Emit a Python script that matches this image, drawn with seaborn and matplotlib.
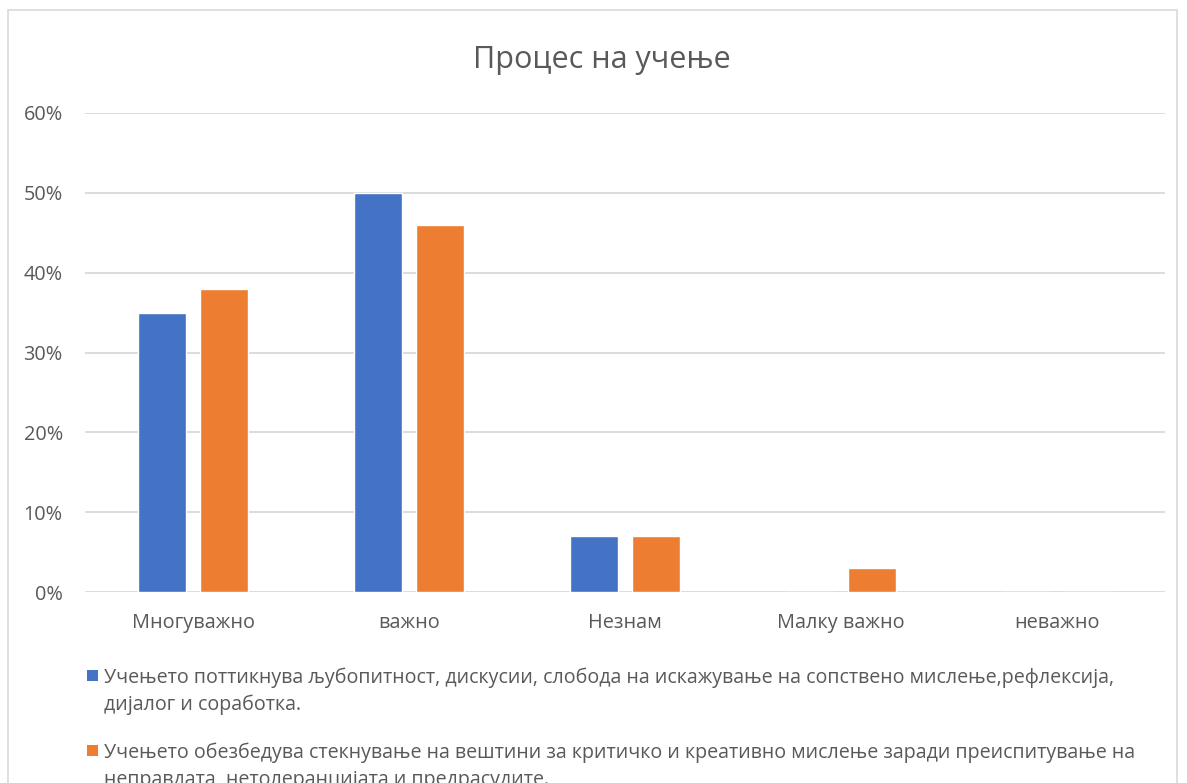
import matplotlib
matplotlib.use("Agg")
import matplotlib.pyplot as plt
from matplotlib.patches import Rectangle
from matplotlib.ticker import PercentFormatter
import seaborn as sns
import pandas as pd

categories = ["Многуважно", "важно", "Незнам", "Малку важно", "неважно"]
series_names = [
    "Учењето поттикнува љубопитност, дискусии, слобода на искажување на сопствено мислење,рефлексија,\nдијалог и соработка.",
    "Учењето обезбедува стекнување на вештини за критичко и креативно мислење заради преиспитување на\nнеправдата, нетолеранцијата и предрасудите.",
]
curiosity = [0.35, 0.50, 0.07, 0.00, 0.00]
critical = [0.38, 0.46, 0.07, 0.03, 0.00]
colors = ["#4472C4", "#ED7D31"]

df = pd.DataFrame({
    "category": categories * 2,
    "value": curiosity + critical,
    "series": [series_names[0]] * len(categories) + [series_names[1]] * len(categories),
})

sns.set_theme(style="white")
plt.rcParams["font.family"] = ["Open Sans", "DejaVu Sans"]

W, H = 1187, 783
fig = plt.figure(figsize=(W / 100, H / 100), dpi=100)
ax = fig.add_axes([85 / W, 1 - 592 / H, (1165 - 85) / W, (592 - 113) / H])

# chart frame
fig.patches.append(Rectangle((8 / W, -0.01), (1177 - 8) / W, 1 - 10 / H + 0.01,
                             transform=fig.transFigure, fill=False,
                             edgecolor="#d9d9d9", linewidth=1.2, zorder=0))

sns.barplot(data=df, x="category", y="value", hue="series", order=categories,
            hue_order=series_names, palette=colors, width=0.574, gap=0.226,
            ax=ax, legend=False, saturation=1, zorder=3)

ax.set_ylim(0, 0.6)
ax.set_xlim(-0.5, len(categories) - 0.5)
ax.set_yticks([0, 0.1, 0.2, 0.3, 0.4, 0.5, 0.6])
ax.yaxis.set_major_formatter(PercentFormatter(1.0, decimals=0))
ax.grid(axis="y", color="#d9d9d9", linewidth=1.3, zorder=0)
ax.set_axisbelow(True)
for s in ax.spines.values():
    s.set_visible(False)
ax.set_xlabel("")
ax.set_ylabel("")
ax.tick_params(axis="y", length=0, pad=16, labelsize=14.3, labelcolor="#595959")
ax.tick_params(axis="x", length=0, pad=15, labelsize=14.3, labelcolor="#595959")

fig.text(602 / W, 1 - 60 / H, "Процес на учење", ha="center", va="center",
         fontsize=22, color="#595959")

# legend below the plot: square key aligned with the first line of each wrapped label
legend_rows = [683, 758]
for name, color, base in zip(series_names, colors, legend_rows):
    fig.patches.append(Rectangle((87 / W, 1 - (base - 2) / H), 11 / W, 11 / H,
                                 transform=fig.transFigure, facecolor=color,
                                 edgecolor="none"))
    for i, line in enumerate(name.split("\n")):
        fig.text(104 / W, 1 - (base + 27 * i) / H, line, ha="left", va="baseline",
                 fontsize=14.1, color="#595959")

fig.savefig("out.png", dpi=100, facecolor="white")
